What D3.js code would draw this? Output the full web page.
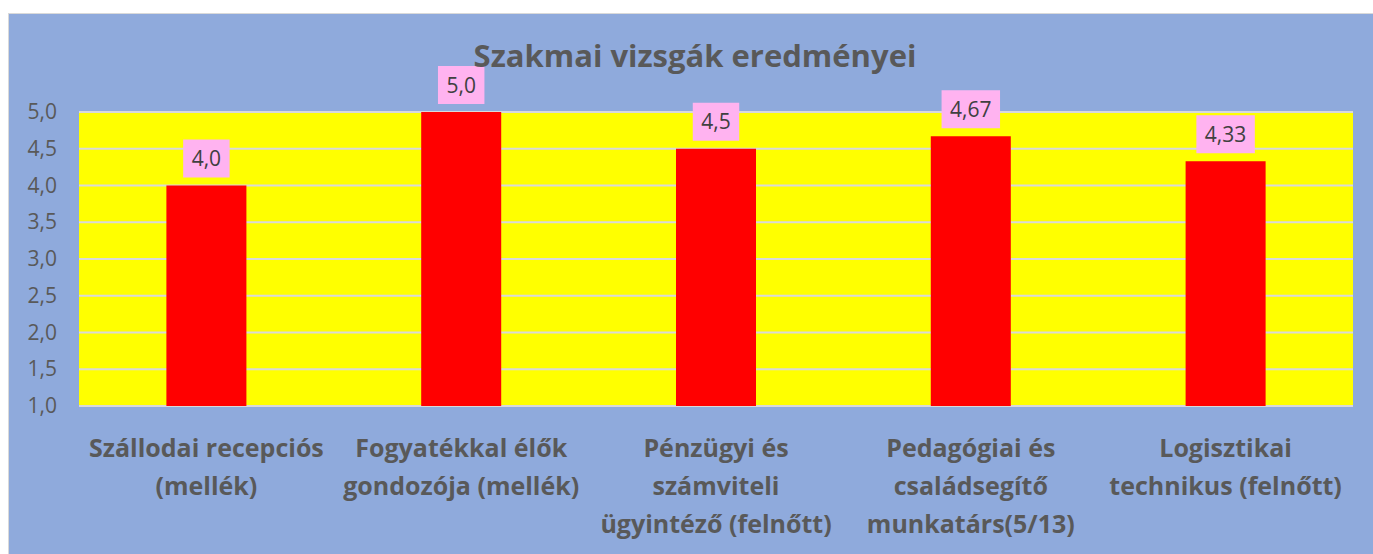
<!DOCTYPE html>
<html>
<head>
<meta charset="utf-8">
<script src="https://cdn.jsdelivr.net/npm/d3@7"></script>
<style>
  html, body { margin: 0; padding: 0; background: #fff; }
  svg { display: block; font-family: "Open Sans", "DejaVu Sans", sans-serif; }
</style>
</head>
<body>
<svg id="chart" width="1373" height="554"></svg>
<script>
// chart data
const title = "Szakmai vizsgák eredményei";
const categories = [
    ["Szállodai recepciós", "(mellék)"],
    ["Fogyatékkal élők", "gondozója (mellék)"],
    ["Pénzügyi és", "számviteli", "ügyintéző (felnőtt)"],
    ["Pedagógiai és", "családsegítő", "munkatárs(5/13)"],
    ["Logisztikai", "technikus (felnőtt)"]
];
const values = [4.0, 5.0, 4.5, 4.67, 4.33];
const valueLabels = ["4,0", "5,0", "4,5", "4,67", "4,33"];
const yTicks = [1.0, 1.5, 2.0, 2.5, 3.0, 3.5, 4.0, 4.5, 5.0];

const svg = d3.select("#chart");
const width = +svg.attr("width");
const height = +svg.attr("height");
const margin = { top: 112, right: 20, bottom: 148, left: 79 };

// chart area background with thin frame
svg.append("rect")
    .attr("x", 8.5).attr("y", 13.5)
    .attr("width", width).attr("height", height)
    .attr("fill", "#8FAADC")
    .attr("stroke", "#D9D9D9");

const x = d3.scaleBand()
    .domain(d3.range(categories.length))
    .range([margin.left, width - margin.right])
    .padding(0);

const y = d3.scaleLinear()
    .domain([1, 5])
    .range([height - margin.bottom, margin.top]);

// plot area
svg.append("rect")
    .attr("x", margin.left)
    .attr("y", y(5))
    .attr("width", width - margin.right - margin.left)
    .attr("height", y(1) - y(5))
    .attr("fill", "#FFFF00");

// gridlines
svg.append("g")
    .selectAll("line")
    .data(yTicks)
    .enter().append("line")
    .attr("x1", margin.left)
    .attr("x2", width - margin.right)
    .attr("y1", d => y(d))
    .attr("y2", d => y(d))
    .attr("stroke", "#D9D9D9")
    .attr("stroke-width", 2);

// y axis labels
const yAxis = d3.axisLeft(y)
    .tickValues(yTicks)
    .tickSize(0)
    .tickPadding(22)
    .tickFormat(d => d3.format(".1f")(d).replace(".", ","));

svg.append("g")
    .attr("transform", `translate(${margin.left},0)`)
    .call(yAxis)
    .call(g => g.select(".domain").remove())
    .selectAll("text")
    .attr("font-family", "\"Open Sans\", sans-serif")
    .attr("font-size", 21)
    .attr("fill", "#595959");

// bars
const barW = x.bandwidth() * 0.314;
svg.append("g")
    .selectAll("rect")
    .data(values)
    .enter().append("rect")
    .attr("x", (d, i) => x(i) + (x.bandwidth() - barW) / 2)
    .attr("y", d => y(d))
    .attr("width", barW)
    .attr("height", d => y(1) - y(d))
    .attr("fill", "#FF0000");

// value labels in pink boxes
const labels = svg.append("g")
    .selectAll("g")
    .data(values)
    .enter().append("g")
    .attr("transform", (d, i) => `translate(${x(i) + x.bandwidth() / 2},${y(d) - 27})`);

labels.append("text")
    .attr("text-anchor", "middle")
    .attr("dy", "0.36em")
    .attr("font-size", 21)
    .attr("fill", "#404040")
    .text((d, i) => valueLabels[i]);

labels.each(function() {
    const g = d3.select(this);
    const w = g.select("text").node().getComputedTextLength();
    g.insert("rect", "text")
        .attr("x", -w / 2 - 8.5)
        .attr("y", -19)
        .attr("width", w + 17)
        .attr("height", 38)
        .attr("fill", "#FFB3F0");
});

// category labels
const cat = svg.append("g")
    .selectAll("text")
    .data(categories)
    .enter().append("text")
    .attr("text-anchor", "middle")
    .attr("font-size", 25)
    .attr("font-weight", "bold")
    .attr("fill", "#595959")
    .attr("transform", (d, i) => `translate(${x(i) + x.bandwidth() / 2},457)`);

cat.selectAll("tspan")
    .data(d => d)
    .enter().append("tspan")
    .attr("x", 0)
    .attr("y", (d, i) => i * 38)
    .text(d => d);

// title
svg.append("text")
    .attr("x", 695)
    .attr("y", 67)
    .attr("text-anchor", "middle")
    .attr("font-size", 31)
    .attr("font-weight", "bold")
    .attr("fill", "#595959")
    .text(title);
</script>
</body>
</html>
